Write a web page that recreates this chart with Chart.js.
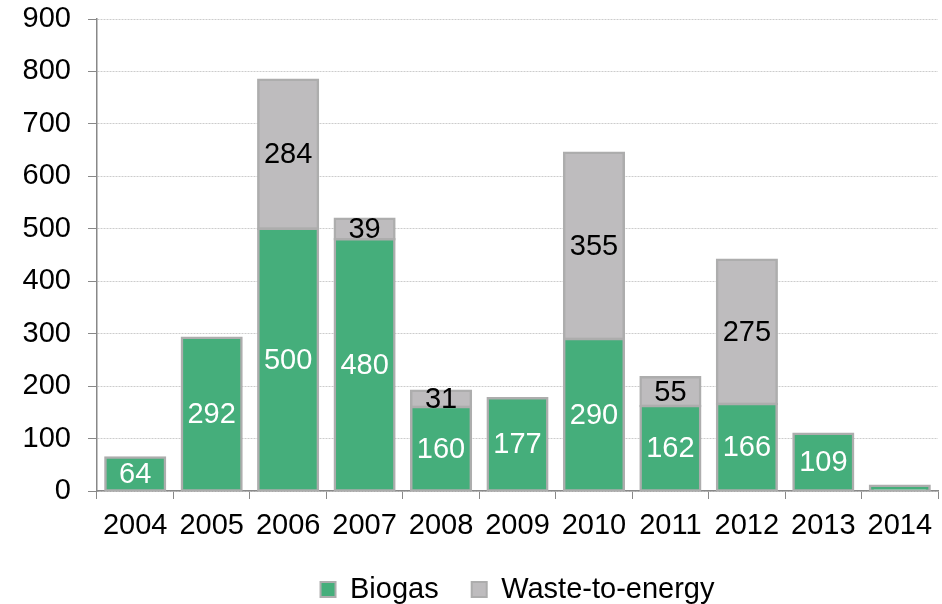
<!DOCTYPE html>
<html>
<head>
<meta charset="utf-8">
<script src="https://cdn.jsdelivr.net/npm/chart.js@4"></script>
<style>
  html, body { margin: 0; padding: 0; background: #fff; }
  #wrap { width: 942px; height: 604px; }
</style>
</head>
<body>
<div id="wrap"><canvas id="chart" width="942" height="604"></canvas></div>
<script>
// Chart data
const years = ["2004", "2005", "2006", "2007", "2008", "2009", "2010", "2011", "2012", "2013", "2014"];
const biogas = [64, 292, 500, 480, 160, 177, 290, 162, 166, 109, 10];
const wasteToEnergy = [0, 0, 284, 39, 31, 0, 355, 55, 275, 0, 0];
const yTicks = [0, 100, 200, 300, 400, 500, 600, 700, 800, 900];

const FONT = "'Liberation Sans', Arial, sans-serif";
const FONT_SIZE = 29;
const EDGE = "#adadad";

// Draw the value in the middle of each segment
const segmentLabels = {
  id: "segmentLabels",
  afterDatasetsDraw(chart) {
    const ctx = chart.ctx;
    ctx.save();
    ctx.font = FONT_SIZE + "px " + FONT;
    ctx.textAlign = "center";
    ctx.textBaseline = "middle";
    chart.data.datasets.forEach((ds, i) => {
      const meta = chart.getDatasetMeta(i);
      meta.data.forEach((bar, j) => {
        const v = ds.data[j];
        if (v < 20) return;
        ctx.fillStyle = i === 0 ? "#ffffff" : "#000000";
        ctx.fillText(String(v), bar.x, (bar.y + bar.base) / 2 + 1);
      });
    });
    ctx.restore();
  },
};

// center the legend under the plot area rather than the whole canvas
const legendUnderPlot = {
  id: "legendUnderPlot",
  afterLayout(chart) {
    if (!chart.legend) return;
    chart.legend.left = chart.chartArea.left;
    chart.legend.right = chart.chartArea.right;
  },
};

// outline sits on the edge (half in, half out); none on empty segments
const edgeWidth = (c) => (c.raw ? 2.5 : 0);
const edgeInflate = (c) => (c.raw ? 1.25 : 0);

new Chart(document.getElementById("chart"), {
  type: "bar",
  data: {
    labels: years,
    datasets: [
      {
        label: "Biogas",
        data: biogas,
        backgroundColor: "#45ae7b",
        borderColor: EDGE,
        borderWidth: edgeWidth,
        inflateAmount: edgeInflate,
        borderSkipped: false,
        categoryPercentage: 0.78,
        barPercentage: 1,
      },
      {
        label: "Waste-to-energy",
        data: wasteToEnergy,
        backgroundColor: "#bebcbe",
        borderColor: EDGE,
        borderWidth: edgeWidth,
        inflateAmount: edgeInflate,
        borderSkipped: false,
        categoryPercentage: 0.78,
        barPercentage: 1,
      },
    ],
  },
  options: {
    responsive: false,
    animation: false,
    layout: { padding: { top: 19, right: 4, left: 4, bottom: -10 } },
    plugins: {
      tooltip: { enabled: false },
      legend: {
        position: "bottom",
        labels: {
          color: "#000",
          font: { family: FONT, size: FONT_SIZE },
          boxWidth: 15,
          boxHeight: 15,
          padding: 33,
          generateLabels(chart) {
            return chart.data.datasets.map((ds, i) => ({
              text: ds.label,
              fillStyle: ds.backgroundColor,
              strokeStyle: EDGE,
              lineWidth: 2,
              datasetIndex: i,
            }));
          },
        },
      },
    },
    scales: {
      x: {
        stacked: true,
        afterFit(axis) {
          axis.height = 51;
          axis.paddingLeft = 0;
          axis.paddingRight = 0;
        },
        grid: {
          display: true,
          offset: true,
          drawOnChartArea: false,
          drawTicks: true,
          tickLength: 8,
          color: "#888888",
        },
        border: { color: "#888888", width: 1.5 },
        ticks: {
          color: "#000",
          font: { family: FONT, size: FONT_SIZE },
          padding: 10,
          maxRotation: 0,
        },
      },
      y: {
        stacked: true,
        min: 0,
        max: 900,
        afterBuildTicks(axis) {
          axis.ticks = yTicks.map((v) => ({ value: v }));
        },
        afterFit(axis) {
          axis.width = 93;
          axis.paddingTop = 0;
          axis.paddingBottom = 0;
        },
        grid: {
          color: "#cccccc",
          tickColor: "#888888",
          tickBorderDash: [],
          tickLength: 9,
        },
        border: { color: "#888888", width: 1.5, dash: [2, 1] },
        ticks: {
          color: "#000",
          font: { family: FONT, size: FONT_SIZE },
          padding: 17,
        },
      },
    },
  },
  plugins: [segmentLabels, legendUnderPlot],
});
</script>
</body>
</html>
